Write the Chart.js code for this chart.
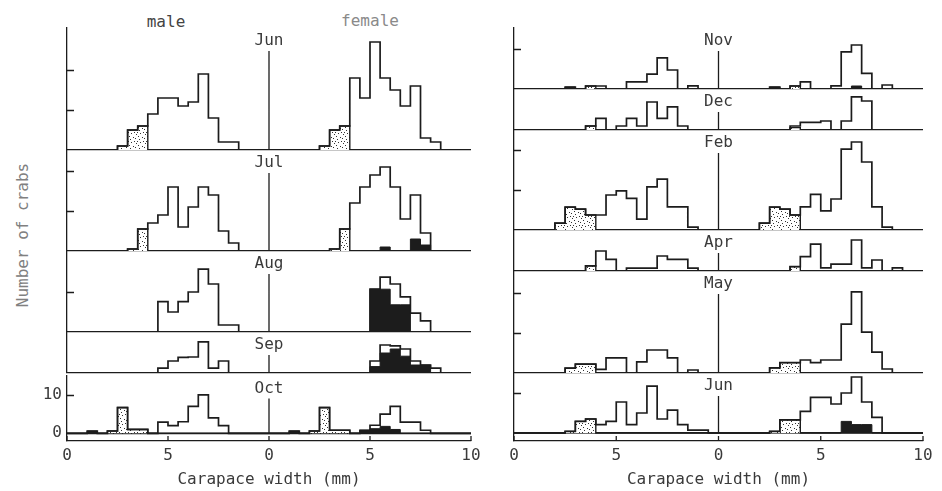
<!DOCTYPE html>
<html>
<head>
<meta charset="utf-8">
<script src="https://cdn.jsdelivr.net/npm/chart.js@4/dist/chart.umd.min.js"></script>
<style>
  body { margin: 0; background: #fff; width: 942px; height: 491px; position: relative; overflow: hidden; font-family: "DejaVu Sans Mono", monospace; }
  canvas { position: absolute; }
  .lbl { position: absolute; font-size: 16px; color: #444; white-space: nowrap; transform: translate(-50%, -50%); }
</style>
</head>
<body>
<div class="lbl" style="left:166px; top:21px; color:#444;">male</div>
<div class="lbl" style="left:370px; top:20px; color:#8a8a8a;">female</div>
<div class="lbl" style="left:22px; top:235px; color:#808080; transform: translate(-50%, -50%) rotate(-90deg);">Number of crabs</div>
<script>
// bins are 0.5 mm wide, index 0 = 0-0.5 mm; male drawn to the left of 0, female to the right
var binEdges = [0, 0.5, 1, 1.5, 2, 2.5, 3, 3.5, 4, 4.5, 5, 5.5, 6, 6.5, 7, 7.5, 8, 8.5, 9, 9.5, 10];
var xTickValues = [-10, -5, 0, 5, 10];
var xTickLabels = ['0', '5', '0', '5', '10'];
var leftMonths = ['Jun', 'Jul', 'Aug', 'Sep', 'Oct'];
var rightMonths = ['Nov', 'Dec', 'Feb', 'Apr', 'May', 'Jun'];
var none = [0,0,0,0,0,0,0,0,0,0,0,0,0,0,0,0,0,0,0,0];

// ---- left column: totals (open), stippled part, black part
var junM  = [0,0,0,2,2,8,19,12,11,13,13,9,6,5,1,0,0,0,0,0];
var junMs = [0,0,0,0,0,0,0,0,0,0,0,0,6,5,1,0,0,0,0,0];
var junF  = [0,0,0,0,0,1,5,6,18,13,27,18,15,11,16,3,2,0,0,0];
var junFs = [0,0,0,0,0,1,5,6,0,0,0,0,0,0,0,0,0,0,0,0];

var julM  = [0,0,0,2,5,14,16,11,6,16,9,7,5.5,0.5,0,0,0,0,0,0];
var julMs = [0,0,0,0,0,0,0,0,0,0,0,0,5.5,0.5,0,0,0,0,0,0];
var julF  = [0,0,0,0,0,0,0.5,5.5,12,16,19,21,16,8,14,4.5,0,0,0,0];
var julFs = [0,0,0,0,0,0,0.5,5.5,0,0,0,0,0,0,0,0,0,0,0,0];
var julFb = [0,0,0,0,0,0,0,0,0,0,0,1,0,0,3,1.5,0,0,0,0];

var augM  = [0,0,0,1.75,1.75,12,15.7,10,7.6,5,7.6,0,0,0,0,0,0,0,0,0];
var augF  = [0,0,0,0,0,0,0,0,0,0,10.7,13.7,12,8.8,4.7,2.8,0,0,0,0];
var augFb = [0,0,0,0,0,0,0,0,0,0,10.7,10.7,6.8,6.8,0,0,0,0,0,0];

var sepM  = [0,0,0,0,3,1.2,7.8,4,3.9,3,1.2,0,0,0,0,0,0,0,0,0];
var sepF  = [0,0,0,0,0,0,0,0,0,0,3,7,6.8,6,3,2,1.2,0,0,0];
var sepFb = [0,0,0,0,0,0,0,0,0,0,1.6,5,6,4.2,2,2,0,0,0,0];

var octM  = [0,0,0,0,2,4,10,7,3,2,2.9,0,1,1,6.7,0.6,0,0.6,0,0];
var octMs = [0,0,0,0,0,0,0,0,0,0,0,0,1,1,6.7,0.6,0,0,0,0];
var octMb = [0,0,0,0,0,0,0,0,0,0,0,0,0,0,0,0,0,0.6,0,0];
var octF  = [0,0,0.6,0,0.6,6.7,0.8,0.8,0,0.8,2.1,5,7,2.9,2.9,0.8,0,0,0,0];
var octFs = [0,0,0,0,0.6,6.7,0.8,0.8,0,0,0,0,0,0,0,0,0,0,0,0];
var octFb = [0,0,0.6,0,0,0,0,0,0,0.8,1.2,1.8,1,0,0,0,0,0,0,0];

// ---- right column
var novM  = [0,0,0.8,0,4.75,7.8,3.7,1.8,1.8,0,0,0.75,0.75,0,0.5,0,0,0,0,0];
var novMs = [0,0,0,0,0,0,0,0,0,0,0,0,0.75,0,0,0,0,0,0,0];
var novMb = [0,0,0,0,0,0,0,0,0,0,0,0,0,0,0.5,0,0,0,0,0];
var novF  = [0,0,0,0,0,0.5,0,0.75,1.8,0,0,0.8,9.3,11,3.9,0,1,0,0,0];
var novFs = [0,0,0,0,0,0,0,0.75,0,0,0,0,0,0,0,0,0,0,0,0];
var novFb = [0,0,0,0,0,0.5,0,0,0,0,0,0,0,0.75,0,0,0,0,0,0];

var decM  = [0,0,0,1,5.8,2.9,7,1,2.9,1,0,2.9,1,0,0,0,0,0,0,0];
var decMs = [0,0,0,0,0,0,0,0,0,0,0,0,1,0,0,0,0,0,0,0];
var decF  = [0,0,0,0,0,0,0,1,1.9,1.9,2.25,0,2.25,8.3,7.25,0,0,0,0,0];
var decFs = [0,0,0,0,0,0,0,0.6,0,0,0,0,0,0,0,0,0,0,0,0];

var febM  = [0,0,0.7,5.8,5.8,12.7,10.8,2.7,7.9,9.8,8.75,3.75,3.75,5.2,5.7,1.7,0,0,0,0];
var febMs = [0,0,0,0,0,0,0,0,0,0,0,0,3.75,5.2,5.7,1.7,0,0,0,0];
var febF  = [0,0,0,0,1.7,5.7,5.2,3.75,5.8,8.9,4.8,7.75,20.2,22,17,5.8,0.7,0,0,0];
var febFs = [0,0,0,0,1.7,5.7,5.2,3.75,0,0,0,0,0,0,0,0,0,0,0,0];

var aprM  = [0,0,0.7,2.9,2.9,3.75,0.7,0.7,0.7,0,2.9,5,1.3,0,0,0,0,0,0,0];
var aprMs = [0,0,0,0,0,0,0,0,0,0,0,0,1.3,0,0,0,0,0,0,0];
var aprF  = [0,0,0,0,0,0,0,1.1,3.6,6.7,0.8,1.7,1.7,7.75,0.8,2.75,0,0.8,0,0];
var aprFs = [0,0,0,0,0,0,0,1.1,0,0,0,0,0,0,0,0,0,0,0,0];

var mayM  = [0,0,0.75,0,3.8,5.75,5.75,2.8,0,3.8,3.8,0.9,2.2,2.2,1.2,0,0,0,0,0];
var mayMs = [0,0,0,0,0,0,0,0,0,0,0,0,2.2,2.2,1.2,0,0,0,0,0];
var mayF  = [0,0,0,0,0,1.3,2.6,2.6,3.25,2.6,3.25,3.25,12.2,20.3,10.2,5.2,1,0,0,0];
var mayFs = [0,0,0,0,0,1.3,2.6,2.6,0,0,0,0,0,0,0,0,0,0,0,0];

var jun2M  = [0,0.7,0.7,2.1,5.7,3.5,11.7,5,2.1,7.75,2.9,2.1,3.5,2.9,0.4,0,0,0,0,0];
var jun2Ms = [0,0,0,0,0,0,0,0,0,0,0,0,3.5,2.9,0.4,0,0,0,0,0];
var jun2F  = [0,0,0,0,0,0.4,3.3,3.3,5.4,8.9,8.9,7.25,10,14,7.75,3.9,0,0,0,0];
var jun2Fs = [0,0,0,0,0,0.4,3.3,3.3,0,0,0,0,0,0,0,0,0,0,0,0];
var jun2Fb = [0,0,0,0,0,0,0,0,0,0,0,0,2.9,2.1,2.1,0,0,0,0,0];

// [male total, female total, male stipple, female stipple, male black, female black]
var leftSeries = [
  [junM, junF, junMs, junFs, none, none],
  [julM, julF, julMs, julFs, none, julFb],
  [augM, augF, none, none, none, augFb],
  [sepM, sepF, none, none, none, sepFb],
  [octM, octF, octMs, octFs, octMb, octFb]
];
var rightSeries = [
  [novM, novF, novMs, novFs, novMb, novFb],
  [decM, decF, decMs, decFs, none, none],
  [febM, febF, febMs, febFs, none, none],
  [aprM, aprF, aprMs, aprFs, none, none],
  [mayM, mayF, mayMs, mayFs, none, none],
  [jun2M, jun2F, jun2Ms, jun2Fs, none, jun2Fb]
];

// panel frames in page pixels
var leftLayout = [
  {top: 28, base: 150, ymax: 30.5, ticks: [10, 20]},
  {top: 150, base: 251, ymax: 25.25, ticks: [10, 20]},
  {top: 251, base: 332, ymax: 20.25, ticks: [10]},
  {top: 332, base: 373, ymax: 10.25, ticks: []},
  {top: 373, base: 433, ymax: 15, ticks: [10], bottom: true, labels: true}
];
var rightLayout = [
  {top: 28, base: 89, ymax: 15.25, ticks: [10]},
  {top: 89, base: 130, ymax: 10.25, ticks: []},
  {top: 130, base: 230, ymax: 25, ticks: [10, 20]},
  {top: 230, base: 271, ymax: 10.25, ticks: []},
  {top: 271, base: 373, ymax: 25.5, ticks: [10, 20]},
  {top: 373, base: 433, ymax: 15, ticks: [10], bottom: true}
];

var ink = '#1c1c1c';
var txt = '#3a3a3a';
var FAM = '"DejaVu Sans Mono", monospace';

// scattered dots so the stipple does not read as hatching
function makeStipple() {
  var c = document.createElement('canvas');
  c.width = 9; c.height = 9;
  var g = c.getContext('2d');
  g.fillStyle = '#fff';
  g.fillRect(0, 0, 9, 9);
  g.fillStyle = '#333';
  [[1,1],[5,0],[3,3],[7,4],[0,5],[4,6],[8,8],[2,8]].forEach(function(p) { g.fillRect(p[0], p[1], 1, 1); });
  return g.createPattern(c, 'repeat');
}
var stipple = makeStipple();

// stepped outline points, ascending x: male bins mirrored to negative x
function steps(male, female) {
  var pts = [{x: -binEdges[20], y: 0}];
  for (var i = 19; i >= 0; i--) pts.push({x: -binEdges[i + 1], y: male[i]});
  for (var j = 0; j < 20; j++) pts.push({x: binEdges[j], y: female[j]});
  pts.push({x: binEdges[20], y: 0});
  return pts;
}

// month label, centre line, inward y ticks, upward x ticks
var panelDecor = {
  id: 'panel',
  afterDraw: function(chart, args, o) {
    var ctx = chart.ctx, xs = chart.scales.x, ys = chart.scales.y, a = chart.chartArea;
    var cx = xs.getPixelForValue(0), y0 = ys.getPixelForValue(0);
    ctx.save();
    ctx.strokeStyle = ink;
    ctx.lineWidth = 1.3;
    ctx.beginPath();
    ctx.moveTo(cx, a.top + 23);
    ctx.lineTo(cx, y0);
    o.ticks.forEach(function(v) {
      var py = Math.round(ys.getPixelForValue(v)) + 0.5;
      ctx.moveTo(a.left, py);
      ctx.lineTo(a.left + 7, py);
    });
    if (o.bottom) {
      xTickValues.forEach(function(v) {
        var px = xs.getPixelForValue(v);
        ctx.moveTo(px, a.bottom);
        ctx.lineTo(px, a.bottom - 5);
      });
    }
    ctx.stroke();
    ctx.fillStyle = txt;
    ctx.font = '16px ' + FAM;
    ctx.textAlign = 'center';
    ctx.textBaseline = 'middle';
    ctx.fillText(o.month, cx, a.top + 13);
    ctx.restore();
  }
};

function drawPanel(col, month, lay, s) {
  var PAD = 12;
  var colLeft = col === 0 ? 0 : 490;
  var colW = col === 0 ? 490 : 452;
  var axisW = col === 0 ? 67 : 24;
  var bottom = !!lay.bottom;
  var h = bottom ? PAD + (441 - lay.top) + 50 : PAD + (lay.base - lay.top) + 2;
  var cv = document.createElement('canvas');
  cv.width = colW;
  cv.height = h;
  cv.style.left = colLeft + 'px';
  cv.style.top = (lay.top - PAD) + 'px';
  document.body.appendChild(cv);

  var yTicks = [0].concat(lay.ticks);

  new Chart(cv, {
    type: 'line',
    data: {
      datasets: [
        {data: steps(s[0], s[1]), stepped: true, borderColor: ink, borderWidth: 1.7, pointRadius: 0, fill: false},
        {data: steps(s[2], s[3]), stepped: true, borderColor: ink, borderWidth: 1.4, pointRadius: 0, backgroundColor: stipple, fill: 'origin'},
        {data: steps(s[4], s[5]), stepped: true, borderColor: ink, borderWidth: 1, pointRadius: 0, backgroundColor: ink, fill: 'origin'}
      ]
    },
    options: {
      responsive: false,
      animation: false,
      events: [],
      layout: {padding: {top: PAD, right: 19, bottom: bottom ? 0 : 2, left: 0}},
      plugins: {
        legend: {display: false},
        tooltip: {enabled: false},
        panel: {month: month, ticks: lay.ticks, bottom: bottom}
      },
      scales: {
        x: {
          type: 'linear', min: -10, max: 10, display: bottom,
          afterBuildTicks: function(sc) { sc.ticks = xTickValues.map(function(v) { return {value: v}; }); },
          afterFit: function(sc) { if (bottom) sc.height = 50; },
          grid: {drawOnChartArea: false, drawTicks: false, lineWidth: 1.3, color: ink},
          border: {display: true, color: ink, width: 1.3},
          ticks: {
            padding: 5, autoSkip: false, maxRotation: 0, color: txt,
            font: {family: FAM, size: 16},
            callback: function(v, i) { return xTickLabels[i]; }
          },
          title: {display: true, text: 'Carapace width (mm)', color: txt, font: {family: FAM, size: 16}, padding: {top: 0, bottom: 2}}
        },
        y: {
          type: 'linear', min: bottom ? -2 : 0, max: lay.ymax,
          afterBuildTicks: function(sc) { sc.ticks = yTicks.map(function(v) { return {value: v}; }); },
          afterFit: function(sc) { sc.width = axisW; },
          grid: {
            drawTicks: false, lineWidth: 1.3,
            color: function(c) { return c.tick && c.tick.value === 0 ? ink : 'rgba(0,0,0,0)'; }
          },
          border: {display: true, color: ink, width: 1.3},
          ticks: {
            display: !!lay.labels, padding: 5, color: txt,
            font: {family: FAM, size: 16},
            callback: function(v) { return String(v); }
          }
        }
      }
    },
    plugins: [panelDecor]
  });
}

leftLayout.forEach(function(lay, k) { drawPanel(0, leftMonths[k], lay, leftSeries[k]); });
rightLayout.forEach(function(lay, k) { drawPanel(1, rightMonths[k], lay, rightSeries[k]); });
</script>
</body>
</html>
